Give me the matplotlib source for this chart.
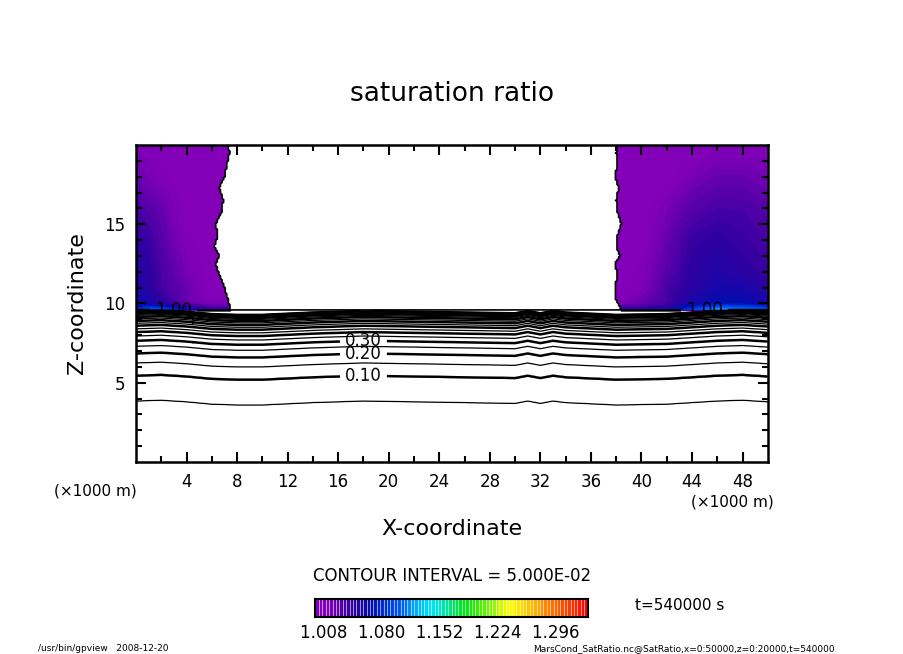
import matplotlib
matplotlib.use("Agg")
import matplotlib.pyplot as plt
import numpy as np
from matplotlib.colors import LinearSegmentedColormap, BoundaryNorm

# lower layer: saturation ratio profile vs height (x1000 m)
z_prof = [0.0, 1.5, 3.8, 5.4, 6.2, 6.8, 7.25, 7.6, 7.9, 8.15, 8.35, 8.55, 8.7,
          8.85, 8.98, 9.1, 9.2, 9.3, 9.38, 9.45, 9.52, 9.6]
s_prof = [0.0, 0.01, 0.05, 0.10, 0.15, 0.20, 0.25, 0.30, 0.35, 0.40, 0.45, 0.50,
          0.55, 0.60, 0.65, 0.70, 0.75, 0.80, 0.85, 0.90, 0.95, 1.00]
# vertical displacement of the profile along x
x_wave = [0, 2, 4, 6, 8, 10, 14, 18, 22, 26, 30, 31, 32, 33, 34, 38, 42, 46, 48, 50]
dz_wave = [0.05, 0.1, 0.0, -0.15, -0.2, -0.2, -0.05, 0.05, 0.0, -0.05, -0.1, 0.05, -0.1,
           0.05, -0.05, -0.2, -0.15, 0.05, 0.1, 0.0]

# upper layer (>1) at the sides, rows = z, cols = x
x_up = [0, 1, 2, 4, 6, 7, 8, 37, 38, 40, 42, 44, 46, 48, 50]
z_up = [9.6, 10.0, 11, 12, 14, 16, 18, 20]
s_up = [
    [1.08, 1.10, 1.10, 1.07, 1.05, 1.05, 1.05, 1.05, 1.05, 1.05, 1.06, 1.09, 1.12, 1.11, 1.10],
    [1.06, 1.06, 1.05, 1.03, 1.02, 1.02, 1.02, 1.02, 1.02, 1.03, 1.04, 1.06, 1.07, 1.07, 1.06],
    [1.06, 1.05, 1.04, 1.03, 1.015, 1.015, 1.015, 1.015, 1.015, 1.02, 1.04, 1.05, 1.06, 1.06, 1.05],
    [1.055, 1.05, 1.04, 1.025, 1.015, 1.015, 1.015, 1.015, 1.015, 1.02, 1.035, 1.05, 1.055, 1.05, 1.045],
    [1.05, 1.045, 1.035, 1.02, 1.015, 1.015, 1.015, 1.015, 1.015, 1.015, 1.03, 1.045, 1.05, 1.045, 1.04],
    [1.04, 1.035, 1.03, 1.015, 1.015, 1.015, 1.015, 1.015, 1.015, 1.015, 1.025, 1.035, 1.04, 1.04, 1.035],
    [1.03, 1.025, 1.02, 1.015, 1.015, 1.015, 1.015, 1.015, 1.015, 1.015, 1.015, 1.025, 1.03, 1.03, 1.025],
    [1.02, 1.02, 1.015, 1.015, 1.015, 1.015, 1.015, 1.015, 1.015, 1.015, 1.015, 1.015, 1.02, 1.02, 1.02],
]
# edges of the white (undersaturated/undefined) gap
z_edge = [9.6, 10.2, 11, 11.8, 12.5, 13, 13.6, 14.3, 15, 15.8, 16.5, 17.3, 18, 18.8, 19.5, 20]
x_left = [7.5, 7.3, 7.0, 6.6, 6.3, 6.6, 6.2, 6.5, 6.3, 6.8, 6.9, 6.6, 7.0, 7.2, 7.4, 7.3]
x_right = [38.4, 38.0, 37.9, 38.1, 37.9, 38.3, 38.0, 38.1, 38.4, 38.1, 38.0, 38.2, 37.9, 38.1, 38.0, 38.1]

x = np.linspace(0, 50, 401)
z = np.linspace(0, 20, 321)
X, Z = np.meshgrid(x, z)

dz = np.interp(x, x_wave, dz_wave)
S = np.interp(Z - dz[None, :], z_prof, s_prof)

rows = np.array([np.interp(x, x_up, r) for r in s_up])
U = np.array([np.interp(z, z_up, rows[:, j]) for j in range(len(x))]).T
xl = np.interp(z, z_edge, x_left)
xr = np.interp(z, z_edge, x_right)
upper = Z > 9.6
gap = upper & (X > xl[:, None]) & (X < xr[:, None])
S = np.where(upper, U, S)
S = np.ma.masked_where(gap, S)

shade_levels = 1.008 + 0.0036 * np.arange(86)
cmap = LinearSegmentedColormap.from_list("gp", [
    (0.0, (0.52, 0.0, 0.72)), (0.04, (0.5, 0.0, 0.72)), (0.12, (0.2, 0.0, 0.62)),
    (0.2, (0.0, 0.05, 0.7)), (0.3, (0.0, 0.35, 1.0)), (0.42, (0.0, 0.9, 1.0)),
    (0.55, (0.0, 0.9, 0.1)), (0.72, (1.0, 1.0, 0.0)), (0.85, (1.0, 0.55, 0.0)),
    (1.0, (1.0, 0.0, 0.0))])
norm = BoundaryNorm(shade_levels, cmap.N)

fig = plt.figure(figsize=(9.04, 6.54), dpi=100)
ax = fig.add_axes([0.1504, 0.2936, 0.699, 0.4847])
ax.contourf(X, Z, S, levels=shade_levels, cmap=cmap, norm=norm, extend="max")
# boundary of the gap
ax.contour(X, Z, gap.astype(float), levels=[0.5], colors="black", linewidths=1.2)
lv = np.arange(1, 21) * 0.05
thin = [v for i, v in enumerate(lv) if i % 2 == 0 or (5 < i < 19)]
ax.contour(X, Z, S, levels=thin, colors="black",
           linewidths=[1.8 if round(v * 20) % 2 == 0 else 0.9 for v in thin])
cs = ax.contour(X, Z, S, levels=[lv[1], lv[3], lv[5]], colors="black", linewidths=1.8)
ax.clabel(cs, fmt="%.2f", fontsize=12,
          manual=[(18, 5.4), (18, 6.8), (18, 7.6)], inline=True)
cs1 = ax.contour(X, Z, S, levels=[lv[19]], colors="black", linewidths=1.8)
ax.clabel(cs1, fmt="%.2f", fontsize=12, manual=[(3, 9.6), (45, 9.6)], inline=True)

ax.set_xlim(0, 50)
ax.set_ylim(0, 20)
ax.set_xticks(np.arange(4, 49, 4))
ax.set_xticks(np.arange(2, 50, 2), minor=True)
ax.set_yticks([5, 10, 15])
ax.set_yticks(np.arange(1, 20, 1), minor=True)
ax.tick_params(which="both", direction="in", top=True, right=True, labelsize=12, width=1.5)
ax.tick_params(which="major", length=7, pad=8)
ax.tick_params(which="minor", length=4)
for sp in ax.spines.values():
    sp.set_linewidth(1.8)

fig.text(0.5, 0.845, "saturation ratio", ha="center", fontsize=19)
ax.set_xlabel("X-coordinate", fontsize=16, labelpad=20)
ax.set_ylabel("Z-coordinate", fontsize=16, labelpad=12)
fig.text(0.105, 0.242, "(×1000 m)", ha="center", fontsize=11)
fig.text(0.81, 0.225, "(×1000 m)", ha="center", fontsize=11)
fig.text(0.5, 0.111, "CONTOUR INTERVAL = 5.000E-02", ha="center", fontsize=12)

cax = fig.add_axes([0.349, 0.056, 0.301, 0.028])
cb_levels = np.linspace(1.008, 1.314, 81)
grad = np.linspace(1.008, 1.314, 80)[None, :]
cax.imshow(grad, aspect="auto", cmap=cmap, norm=norm, extent=(1.008, 1.314, 0, 1))
for v in cb_levels:
    cax.axvline(v, color="white", lw=0.4)
cax.set_xticks([])
cax.set_yticks([])
for sp in cax.spines.values():
    sp.set_linewidth(1.5)
fig.text(0.332, 0.024, "1.008  1.080  1.152  1.224  1.296", ha="left", fontsize=12)
fig.text(0.702, 0.068, "t=540000 s", ha="left", fontsize=11)
fig.text(0.042, 0.005, "/usr/bin/gpview   2008-12-20", fontsize=6.5)
fig.text(0.59, 0.005, "MarsCond_SatRatio.nc@SatRatio,x=0:50000,z=0:20000,t=540000", fontsize=6.5)

fig.savefig("out.png", dpi=100)
